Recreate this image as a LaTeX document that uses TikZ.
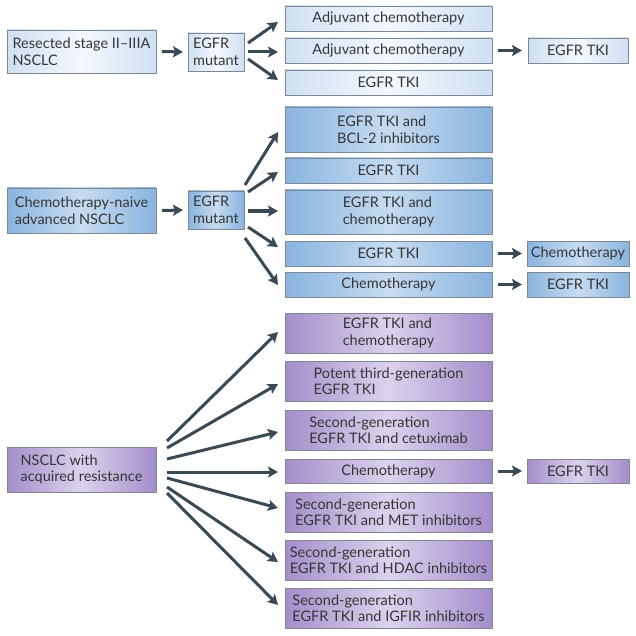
\documentclass[tikz,border=0pt]{standalone}
\usepackage{fontspec}
\setmainfont{Lato}
\usetikzlibrary{arrows.meta}
\definecolor{lbE}{HTML}{CFE0F2}
\definecolor{lbC}{HTML}{F3F8FD}
\definecolor{mbE}{HTML}{89B4DF}
\definecolor{mbC}{HTML}{C6DCF1}
\definecolor{puE}{HTML}{A38ECB}
\definecolor{puC}{HTML}{DCD2EC}
\definecolor{bord}{HTML}{7E8893}
\definecolor{arrc}{HTML}{3A4A54}
\definecolor{txt}{HTML}{363636}
\tikzset{
  box/.style={draw=bord, line width=0.8pt, inner sep=0pt, outer sep=0pt, align=left,
    text=txt, font=\fontsize{14.5}{16.5}\selectfont},
  lblue/.style={box, left color=lbE, right color=lbE, middle color=lbC},
  mblue/.style={box, left color=mbE, right color=mbE, middle color=mbC},
  purp/.style={box, left color=puE, right color=puE, middle color=puC},
  arrw/.style={draw=arrc, line width=3pt, -{Stealth[length=10pt,width=11pt,inset=2pt]}},
}
\newcommand\bx[7]{\node[#6, minimum width={(#4-#2)*1pt}, minimum height={(#5-#3)*1pt}] (#1) at ({(#2+#4)/2},{(#3+#5)/2}) {#7};}
\begin{document}
\begin{tikzpicture}[x=1pt,y=-1pt]
\useasboundingbox (0,0) rectangle (636,636);
% top
\bx{res}{7}{30}{156}{73}{lblue}{Resected stage II–IIIA\\NSCLC}
\bx{mut1}{188}{33}{244}{71}{lblue}{EGFR\\mutant}
\bx{a1}{285}{6}{492}{31}{lblue}{Adjuvant chemotherapy}
\bx{a2}{285}{38}{492}{63}{lblue}{Adjuvant chemotherapy}
\bx{a3}{285}{70}{492}{95}{lblue}{EGFR TKI}
\bx{t1}{528}{38}{628}{63}{lblue}{EGFR TKI}
\draw[arrw] ([shift={(6,0)}]res.east) -- ([shift={(-5,0)}]mut1.west);
\draw[arrw] ([shift={(4,-9)}]mut1.east) -- ([shift={(-7,3.5)}]a1.west);
\draw[arrw] ([shift={(4,0)}]mut1.east) -- ([shift={(-7,1.5)}]a2.west);
\draw[arrw] ([shift={(4,7)}]mut1.east) -- ([shift={(-7,-2.5)}]a3.west);
\draw[arrw] ([shift={(6,0)}]a2.east) -- ([shift={(-6,0)}]t1.west);
% middle
\bx{naive}{7}{188}{156}{233}{mblue}{Chemotherapy-naive\\advanced NSCLC}
\bx{mut2}{188}{191}{244}{229}{mblue}{EGFR\\mutant}
\bx{b1}{285}{107}{492}{152}{mblue}{EGFR TKI and\\BCL-2 inhibitors}
\bx{b2}{285}{158}{492}{183}{mblue}{EGFR TKI}
\bx{b3}{285}{190}{492}{234}{mblue}{EGFR TKI and\\chemotherapy}
\bx{b4}{285}{241}{492}{266}{mblue}{EGFR TKI}
\bx{b5}{285}{272}{492}{297}{mblue}{Chemotherapy}
\bx{c4}{527}{241}{629}{266}{mblue}{Chemotherapy}
\bx{c5}{527}{272}{629}{297}{mblue}{EGFR TKI}
\draw[arrw] ([shift={(6,0)}]naive.east) -- ([shift={(-5,0)}]mut2.west);
\draw[arrw] ([shift={(1,-25)}]mut2.east) -- ([shift={(-7,2.5)}]b1.west);
\draw[arrw] ([shift={(4,-18)}]mut2.east) -- ([shift={(-7,1.5)}]b2.west);
\draw[arrw] ([shift={(4,1)}]mut2.east) -- ([shift={(-7,-1)}]b3.west);
\draw[arrw] ([shift={(4,17)}]mut2.east) -- ([shift={(-7,-6.5)}]b4.west);
\draw[arrw] ([shift={(1,28)}]mut2.east) -- ([shift={(-7,0.5)}]b5.west);
\draw[arrw] ([shift={(6,0)}]b4.east) -- ([shift={(-5,0)}]c4.west);
\draw[arrw] ([shift={(6,0)}]b5.east) -- ([shift={(-5,0)}]c5.west);
% bottom
\bx{res2}{7}{447}{156}{492}{purp}{NSCLC with\\acquired resistance}
\bx{d1}{285}{313}{492}{353}{purp}{EGFR TKI and\\chemotherapy}
\bx{d2}{285}{361}{492}{401}{purp}{Potent third-generation\\EGFR TKI}
\bx{d3}{285}{410}{492}{450}{purp}{Second-generation\\EGFR TKI and cetuximab}
\bx{d4}{285}{459}{492}{483}{purp}{Chemotherapy}
\bx{d5}{285}{492}{492}{532}{purp}{Second-generation\\EGFR TKI and MET inhibitors}
\bx{d6}{285}{540}{492}{580}{purp}{Second-generation\\EGFR TKI and HDAC inhibitors}
\bx{d7}{285}{588}{492}{628}{purp}{Second-generation\\EGFR TKI and IGFIR inhibitors}
\bx{e4}{527}{459}{629}{483}{purp}{EGFR TKI}
\draw[arrw] ([shift={(11,-28.5)}]res2.east) -- ([shift={(-7,-1)}]d1.west);
\draw[arrw] ([shift={(11,-21.5)}]res2.east) -- ([shift={(-7,3)}]d2.west);
\draw[arrw] ([shift={(11,-10.5)}]res2.east) -- ([shift={(-7,2)}]d3.west);
\draw[arrw] ([shift={(11,2.5)}]res2.east) -- ([shift={(-7,1)}]d4.west);
\draw[arrw] ([shift={(11,8.5)}]res2.east) -- ([shift={(-7,-4)}]d5.west);
\draw[arrw] ([shift={(11,17.5)}]res2.east) -- ([shift={(-7,2)}]d6.west);
\draw[arrw] ([shift={(11,23.5)}]res2.east) -- ([shift={(-7,-3)}]d7.west);
\draw[arrw] ([shift={(6,0)}]d4.east) -- ([shift={(-5,0)}]e4.west);
\end{tikzpicture}
\end{document}
